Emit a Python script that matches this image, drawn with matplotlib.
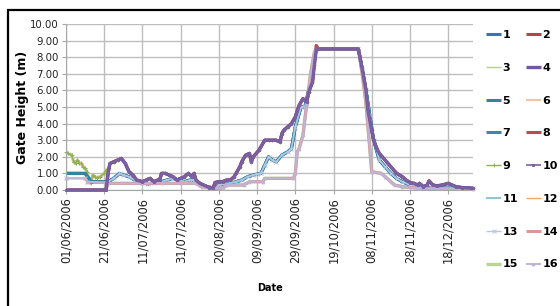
import numpy as np
import matplotlib
matplotlib.use("Agg")
import matplotlib.pyplot as plt
import matplotlib.dates as mdates
from matplotlib.patches import Rectangle

# ---- data (day offsets from 01/06/2006, gate height in m) ----
start_date = np.datetime64("2006-06-01")

zero_early_days = [0, 21]
zero_early_vals = [0.0, 0.0]

green_early_days = [0, 1, 3, 4, 5, 6, 7, 8, 9, 10, 11, 12, 13, 14, 15, 16, 18, 20, 21]
green_early_vals = [2.3, 2.2, 2.1, 1.7, 1.6, 1.8, 1.6, 1.6, 1.4, 1.3, 1.1, 0.6, 0.4, 0.9, 0.8, 0.75, 0.8, 1.0, 1.2]

teal_early_days = [0, 10, 12, 13, 21]
teal_early_vals = [1.0, 1.0, 0.7, 0.5, 0.5]

low_early_days = [0, 10, 11, 21]
low_early_vals = [0.7, 0.7, 0.5, 0.45]

high_days = [22, 23, 25, 27, 29, 31, 33, 35, 37, 40, 42, 44, 46, 48, 49, 50, 52, 54, 56, 58,
             60, 62, 64, 66, 67, 68, 70, 72, 75, 77, 78, 80, 82, 84, 86, 88, 89, 91, 92, 94,
             96, 97, 98, 101, 104, 106, 108, 110, 112, 113, 114, 116, 118, 120, 122, 124, 126,
             127, 129, 130, 131, 132, 153, 155, 157, 158, 160, 161, 163, 164, 167, 170, 173,
             176, 178, 180, 182, 184, 185, 187, 189, 190, 192, 194, 197, 200, 202, 204, 207, 213]
high_vals = [1.0, 1.6, 1.7, 1.8, 1.9, 1.6, 1.1, 0.9, 0.6, 0.5, 0.6, 0.7, 0.5, 0.6, 0.6, 1.0, 1.0, 0.9, 0.8, 0.6,
             0.7, 0.8, 1.0, 0.8, 1.0, 0.6, 0.4, 0.3, 0.15, 0.1, 0.45, 0.5, 0.5, 0.6, 0.6, 0.8, 1.0, 1.4, 1.7, 2.1,
             2.2, 1.7, 2.0, 2.4, 3.0, 3.0, 3.0, 3.0, 2.9, 3.4, 3.6, 3.8, 4.0, 4.4, 5.1, 5.5, 5.3,
             5.9, 6.5, 7.5, 8.5, 8.5, 8.5, 7.3, 6.0, 4.8, 3.6, 3.0, 2.4, 2.2, 1.8, 1.4, 1.0,
             0.8, 0.6, 0.45, 0.4, 0.3, 0.4, 0.2, 0.3, 0.55, 0.3, 0.25, 0.3, 0.4, 0.3, 0.2, 0.15, 0.1]

red_days = [129, 130, 131, 132]
red_vals = [6.5, 7.8, 8.7, 8.5]

mid_days = [22, 25, 28, 30, 33, 36, 40, 43, 46, 50, 53, 56, 59, 62, 65, 67, 70, 74, 78, 80,
            83, 86, 89, 92, 95, 98, 100, 102, 104, 106, 108, 110, 113, 116, 118, 120, 123, 125,
            127, 129, 131, 153, 155, 157, 159, 161, 164, 167, 170, 173, 176, 180, 185, 190, 200, 213]
mid_vals = [0.5, 0.7, 1.0, 0.9, 0.8, 0.6, 0.45, 0.35, 0.45, 0.5, 0.6, 0.7, 0.6, 0.5, 0.6, 0.6, 0.3, 0.2, 0.1, 0.3,
            0.35, 0.4, 0.5, 0.6, 0.8, 0.9, 0.95, 1.0, 1.5, 2.0, 1.8, 1.7, 2.1, 2.3, 2.5, 3.8, 5.0, 5.0,
            6.0, 7.0, 8.5, 8.5, 7.3, 6.0, 4.5, 3.0, 1.8, 1.4, 1.0, 0.7, 0.5, 0.3, 0.2, 0.15, 0.15, 0.1]

low_days = [22, 40, 50, 60, 68, 71, 76, 82, 84, 93, 96, 103, 104, 119, 120, 121, 122, 124, 126,
            128, 130, 131, 153, 155, 157, 159, 160, 165, 167, 170, 172, 176, 185, 213]
low_vals = [0.4, 0.4, 0.4, 0.4, 0.4, 0.2, 0.1, 0.1, 0.3, 0.3, 0.5, 0.5, 0.7, 0.7, 1.0, 2.3, 2.5, 3.3, 5.2,
            7.0, 8.3, 8.5, 8.5, 7.0, 5.2, 2.5, 1.1, 1.0, 0.8, 0.5, 0.3, 0.2, 0.1, 0.05]

series_names = [str(i) for i in range(1, 17)]
series_paths = {
    "1": ("teal_early", "mid"), "2": ("zero_early", "high"), "3": ("green_early", "low"),
    "4": ("zero_early", "high"), "5": ("teal_early", "mid"), "6": ("green_early", "high"),
    "7": ("teal_early", "mid"), "8": ("zero_early", "high"), "9": ("green_early", "high"),
    "10": ("zero_early", "high"), "11": ("low_early", "mid"), "12": ("green_early", "high"),
    "13": ("low_early", "mid"), "14": ("zero_early", "low"), "15": ("green_early", "low"),
    "16": ("low_early", "low"),
}
segments = {
    "zero_early": (zero_early_days, zero_early_vals),
    "green_early": (green_early_days, green_early_vals),
    "teal_early": (teal_early_days, teal_early_vals),
    "low_early": (low_early_days, low_early_vals),
    "high": (high_days, high_vals),
    "mid": (mid_days, mid_vals),
    "low": (low_days, low_vals),
}

tick_days = list(range(0, 214, 20))
y_ticks = [0, 1, 2, 3, 4, 5, 6, 7, 8, 9, 10]

# ---- styles ----
styles = {
    "1": dict(color="#4170AE", lw=2.2, z=2.0),
    "2": dict(color="#B9433F", lw=2.2, z=2.0),
    "3": dict(color="#B6CE8E", lw=1.0, z=1.8),
    "4": dict(color="#7157A0", lw=2.4, z=2.6),
    "5": dict(color="#31859C", lw=2.2, z=2.3),
    "6": dict(color="#F2C6A6", lw=1.6, z=2.0),
    "7": dict(color="#4A7EBB", lw=2.2, z=2.1),
    "8": dict(color="#BE4B48", lw=2.2, z=2.0),
    "9": dict(color="#8DB356", lw=1.0, marker="+", ms=2.5, z=2.05),
    "10": dict(color="#7D60A0", lw=1.2, marker="s", ms=2.0, z=2.7),
    "11": dict(color="#7BB8CE", lw=1.2, z=2.4),
    "12": dict(color="#F5A866", lw=1.0, z=2.0),
    "13": dict(color="#B3C8E2", lw=1.0, marker="x", ms=2.5, z=2.45),
    "14": dict(color="#D89A98", lw=2.2, z=2.5),
    "15": dict(color="#BCD49A", lw=2.4, z=1.9),
    "16": dict(color="#C0B3D6", lw=1.4, marker="^", ms=2.0, z=2.55),
}

fig = plt.figure(figsize=(5.6, 3.06), dpi=100)
ax = fig.add_axes([66 / 560, 1 - 190 / 306, (473 - 66) / 560, (190 - 24) / 306])

handles = {}
for name in series_names:
    early, late = series_paths[name]
    d = list(segments[early][0])
    v = list(segments[early][1])
    for dd, vv in zip(segments[late][0], segments[late][1]):
        if name in ("2", "8") and dd in red_days:
            vv = red_vals[red_days.index(dd)]
        d.append(dd)
        v.append(vv)
    x = start_date + np.array(d, dtype="timedelta64[D]")
    st = styles[name]
    (ln,) = ax.plot(x, v, color=st["color"], lw=st["lw"], marker=st.get("marker", None),
                    ms=st.get("ms", 0), mew=0.7, label=name, clip_on=False,
                    solid_capstyle="butt", zorder=st["z"])
    handles[name] = ln

ax.set_xlim(start_date, start_date + np.timedelta64(213, "D"))
ax.set_ylim(0, 10)
ax.set_yticks(y_ticks)
ax.set_yticklabels([f"{t:.2f}" for t in y_ticks], fontsize=7.3, color="#222222")
xt = [start_date + np.timedelta64(t, "D") for t in tick_days]
ax.set_xticks(xt)
ax.xaxis.set_major_formatter(mdates.DateFormatter("%d/%m/%Y"))
for lab in ax.get_xticklabels():
    lab.set_rotation(90)
    lab.set_fontsize(8.3)
    lab.set_color("#222222")
ax.grid(True, color="#BDBDBD", lw=1.0)
ax.set_axisbelow(True)
for s in ["top", "right"]:
    ax.spines[s].set_visible(False)
for s in ["left", "bottom"]:
    ax.spines[s].set_color("#A6A6A6")
ax.tick_params(axis="both", direction="out", length=3, color="#A6A6A6", pad=2)

ax.set_ylabel("Gate Height (m)", fontsize=9, fontweight="bold")
ax.yaxis.set_label_coords(-(66 - 29) / (473 - 66), 0.5)
ax.set_xlabel("Date", fontsize=7, fontweight="bold")
ax.xaxis.set_label_coords((270 - 66) / (473 - 66), -(283 - 190) / (190 - 24))

# legend: Excel fills row-wise, matplotlib column-wise -> reorder
order = [str(i) for i in range(1, 17, 2)] + [str(i) for i in range(2, 17, 2)]
leg = fig.legend([handles[k] for k in order], order, loc="upper left",
                 bbox_to_anchor=(486 / 560, 1 - 30 / 306), borderaxespad=0, borderpad=0,
                 ncol=2, frameon=False, handlelength=1.35, handletextpad=0.15,
                 columnspacing=0.7, labelspacing=2.05, prop=dict(weight="bold", size=8))

# outer black border (cropped at right/bottom)
fig.patches.append(Rectangle((8 / 560, -0.05), 1.2, 1 - 10 / 306 + 0.05, transform=fig.transFigure,
                             fill=False, edgecolor="black", lw=1.6))

fig.savefig("out.png", dpi=100)
